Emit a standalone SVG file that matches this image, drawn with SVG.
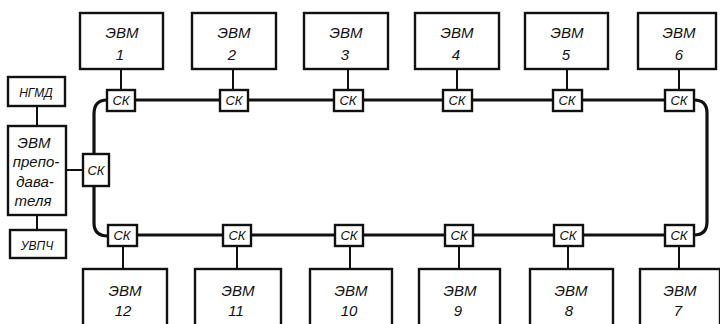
<svg xmlns="http://www.w3.org/2000/svg" width="720" height="324" viewBox="0 0 720 324">
<style>
.box{fill:#fff;stroke:#111;stroke-width:2.4}
.sk{fill:#fff;stroke:#111;stroke-width:2.4}
.bus{fill:none;stroke:#111;stroke-width:3.2}
.stub{fill:none;stroke:#111;stroke-width:2}
text{font-family:"Liberation Sans",Arial,sans-serif;font-style:italic;fill:#111;text-anchor:middle}
.t{font-size:15px}
.s{font-size:13px}
.m{font-size:12px}
</style>
<rect width="720" height="324" fill="#fff"/>
<g id="connectors">
<path class="bus" d="M107,100 H665 M694,100 Q707,100 707,113 V222 Q707,235 694,235 H108 M108,236 Q94,236 94,223 V186 M94,154 V114 Q94,100 107,100"/>
<path class="stub" d="M121,69 V90 M233,69 V90 M348,69 V90 M457,69 V90 M567,69 V90 M679,69 V90"/>
<path class="stub" d="M123,246 V269 M237,246 V269 M350,246 V269 M459,246 V269 M568,246 V269 M679,246 V269"/>
<path class="stub" d="M37,106 V126 M37,215 V230 M66,170 H83"/>
</g>
<g id="evm1"><rect class="box" x="80" y="13" width="83" height="56"/><text class="t" x="122" y="38">ЭВМ</text><text class="t" x="120" y="60">1</text></g>
<g id="evm2"><rect class="box" x="192" y="13" width="84" height="56"/><text class="t" x="234" y="38">ЭВМ</text><text class="t" x="232" y="60">2</text></g>
<g id="evm3"><rect class="box" x="304" y="13" width="84" height="56"/><text class="t" x="346" y="38">ЭВМ</text><text class="t" x="345" y="60">3</text></g>
<g id="evm4"><rect class="box" x="415" y="13" width="84" height="56"/><text class="t" x="457" y="38">ЭВМ</text><text class="t" x="456" y="60">4</text></g>
<g id="evm5"><rect class="box" x="525" y="13" width="83" height="56"/><text class="t" x="567" y="38">ЭВМ</text><text class="t" x="566" y="60">5</text></g>
<g id="evm6"><rect class="box" x="638" y="13" width="78" height="56"/><text class="t" x="679" y="38">ЭВМ</text><text class="t" x="679" y="60">6</text></g>
<g id="evm12"><rect class="box" x="83" y="269" width="84" height="70"/><text class="t" x="125" y="296">ЭВМ</text><text class="t" x="123" y="316">12</text></g>
<g id="evm11"><rect class="box" x="195" y="269" width="86" height="70"/><text class="t" x="238" y="296">ЭВМ</text><text class="t" x="236" y="316">11</text></g>
<g id="evm10"><rect class="box" x="310" y="269" width="82" height="70"/><text class="t" x="351" y="296">ЭВМ</text><text class="t" x="349" y="316">10</text></g>
<g id="evm9"><rect class="box" x="419" y="269" width="81" height="70"/><text class="t" x="460" y="296">ЭВМ</text><text class="t" x="458" y="316">9</text></g>
<g id="evm8"><rect class="box" x="530" y="269" width="83" height="70"/><text class="t" x="571" y="296">ЭВМ</text><text class="t" x="569" y="316">8</text></g>
<g id="evm7"><rect class="box" x="640" y="269" width="80" height="70"/><text class="t" x="680" y="296">ЭВМ</text><text class="t" x="678" y="316">7</text></g>
<g id="sk1"><rect class="sk" x="107" y="90" width="28" height="21"/><text class="s" x="121" y="105">СК</text></g>
<g id="sk2"><rect class="sk" x="220" y="90" width="28" height="21"/><text class="s" x="234" y="105">СК</text></g>
<g id="sk3"><rect class="sk" x="334" y="90" width="29" height="21"/><text class="s" x="348" y="105">СК</text></g>
<g id="sk4"><rect class="sk" x="443" y="90" width="29" height="21"/><text class="s" x="457" y="105">СК</text></g>
<g id="sk5"><rect class="sk" x="553" y="90" width="29" height="21"/><text class="s" x="567" y="105">СК</text></g>
<g id="sk6"><rect class="sk" x="665" y="90" width="29" height="21"/><text class="s" x="679" y="105">СК</text></g>
<g id="sk12"><rect class="sk" x="108" y="225" width="29" height="21"/><text class="s" x="122" y="240">СК</text></g>
<g id="sk11"><rect class="sk" x="223" y="225" width="28" height="21"/><text class="s" x="237" y="240">СК</text></g>
<g id="sk10"><rect class="sk" x="335" y="225" width="28" height="21"/><text class="s" x="349" y="240">СК</text></g>
<g id="sk9"><rect class="sk" x="445" y="225" width="28" height="21"/><text class="s" x="459" y="240">СК</text></g>
<g id="sk8"><rect class="sk" x="554" y="225" width="29" height="21"/><text class="s" x="568" y="240">СК</text></g>
<g id="sk7"><rect class="sk" x="665" y="225" width="29" height="21"/><text class="s" x="679" y="240">СК</text></g>
<g id="sk0"><rect class="sk" x="83" y="154" width="26" height="32"/><text class="s" x="96" y="175">СК</text></g>
<g id="ngmd"><rect class="box" x="8" y="77" width="57" height="29"/><text class="m" x="36" y="97">НГМД</text></g>
<g id="evm-prep"><rect class="box" x="8" y="126" width="58" height="89"/>
<text class="t" x="34" y="148">ЭВМ</text>
<text class="t" x="36" y="167">препо-</text>
<text class="t" x="35" y="187">дава-</text>
<text class="t" x="33" y="206">теля</text></g>
<g id="uvpch"><rect class="box" x="10" y="230" width="56" height="28"/><text class="m" x="37" y="250">УВПЧ</text></g>
</svg>
